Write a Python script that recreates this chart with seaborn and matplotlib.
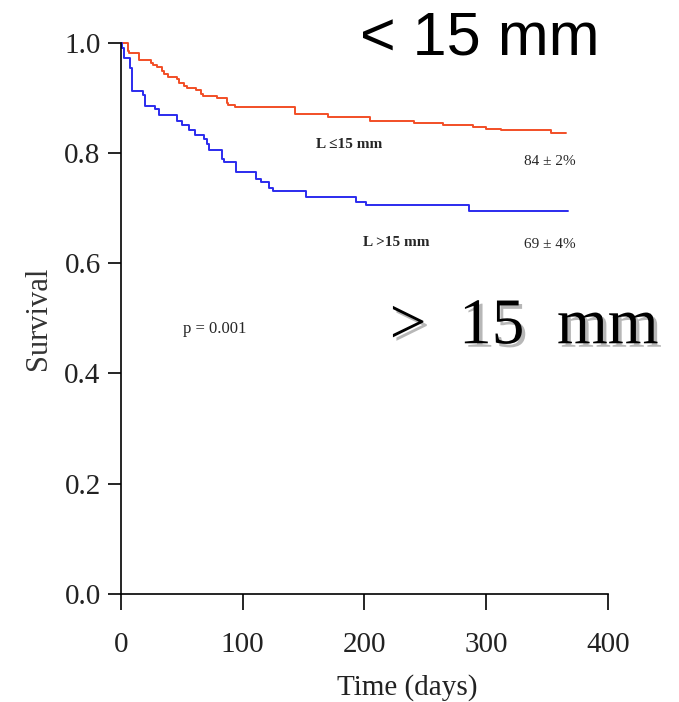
import numpy as np
import pandas as pd
import matplotlib
matplotlib.use("Agg")
import matplotlib.pyplot as plt
import matplotlib.patheffects as pe
import seaborn as sns

# Kaplan-Meier steps (time in days, survival after the step)
times_small = [0, 5.5, 6.6, 14.8, 24.6, 26.5, 30, 34, 35.6, 39, 46, 48, 51.7, 54,
               62, 66, 67.6, 79, 87, 88, 94, 143, 170, 205, 241, 265, 289, 300,
               312, 353, 366]
surv_small = [1.0, 0.985, 0.981, 0.969, 0.964, 0.960, 0.957, 0.948, 0.943, 0.938,
              0.934, 0.927, 0.922, 0.918, 0.915, 0.907, 0.903, 0.900, 0.891, 0.887,
              0.884, 0.871, 0.865, 0.859, 0.854, 0.851, 0.848, 0.844, 0.841, 0.836,
              0.836]
times_large = [0, 1.0, 2.7, 7.4, 8.8, 18.3, 19.7, 27.9, 31.5, 46, 50.6, 55.9, 60.8,
               68.5, 71, 72.5, 82.7, 85, 95, 111, 115, 122, 125, 152.5, 193, 201,
               286, 367]
surv_large = [1.0, 0.990, 0.973, 0.954, 0.912, 0.906, 0.886, 0.880, 0.869, 0.859,
              0.851, 0.841, 0.833, 0.825, 0.816, 0.806, 0.789, 0.783, 0.765, 0.753,
              0.747, 0.737, 0.731, 0.721, 0.711, 0.705, 0.695, 0.695]

group_names = ["L \u226415 mm", "L >15 mm"]
group_colors = ["#F24E26", "#2B2BEE"]
end_labels = ["84 \u00b1 2%", "69 \u00b1 4%"]
x_ticks = [0, 100, 200, 300, 400]
y_ticks = [0.0, 0.2, 0.4, 0.6, 0.8, 1.0]

df = pd.concat([
    pd.DataFrame({"time": times_small, "surv": surv_small, "group": group_names[0]}),
    pd.DataFrame({"time": times_large, "surv": surv_large, "group": group_names[1]}),
], ignore_index=True)

sns.set_style("ticks")
plt.rcParams["font.family"] = ["Liberation Serif", "DejaVu Sans"]

fig = plt.figure(figsize=(6.79, 7.02), dpi=100)
ax = fig.add_axes([0.178, 0.154, 0.717, 0.785])

sns.lineplot(data=df, x="time", y="surv", hue="group", hue_order=group_names,
             palette=group_colors, drawstyle="steps-post", estimator=None,
             sort=False, legend=False, ax=ax, linewidth=1.4)
for ln in ax.lines:
    ln.set_clip_on(False)

ax.set_xlim(0, 400)
ax.set_ylim(0, 1.0)
ax.set_xticks(x_ticks)
ax.set_yticks(y_ticks)
ax.set_yticklabels([f"{v:.1f}" for v in y_ticks])
sns.despine(ax=ax)
for s in ("left", "bottom"):
    ax.spines[s].set_linewidth(1.2)
    ax.spines[s].set_color("black")
ax.tick_params(axis="y", direction="out", length=9.5, width=1.2, pad=5,
               labelsize=21, colors="black", labelcolor="#222222")
ax.tick_params(axis="x", direction="out", length=11.5, width=1.2, pad=16,
               labelsize=21, colors="black", labelcolor="#222222")

ax.set_ylabel("Survival", fontsize=22, labelpad=8, color="#333333")
ax.set_xlabel("Time (days)", fontsize=21, color="#222222")
ax.xaxis.set_label_coords(0.589, -0.145)

# in-plot annotations
ax.text(160, 0.809, group_names[0], fontsize=11, fontweight="bold", ha="left", va="baseline")
ax.text(199, 0.632, group_names[1], fontsize=11, fontweight="bold", ha="left", va="baseline")
ax.text(331, 0.778, end_labels[0], fontsize=11, ha="left", va="baseline")
ax.text(331, 0.628, end_labels[1], fontsize=11, ha="left", va="baseline")
ax.text(51, 0.473, "p = 0.001", fontsize=12, ha="left", va="baseline")

fig.text(0.707, 0.922, "< 15 mm", fontsize=44, family=["Liberation Sans", "DejaVu Sans"],
         ha="center", va="baseline", color="black")
fig.text(0.772, 0.511, ">  15  mm", fontsize=47, family=["Liberation Serif", "DejaVu Sans"],
         ha="center", va="baseline", color="black",
         path_effects=[pe.withSimplePatchShadow(offset=(2.5, -2.5), shadow_rgbFace="#888888", alpha=0.6)])

fig.savefig("out.png", dpi=100)
